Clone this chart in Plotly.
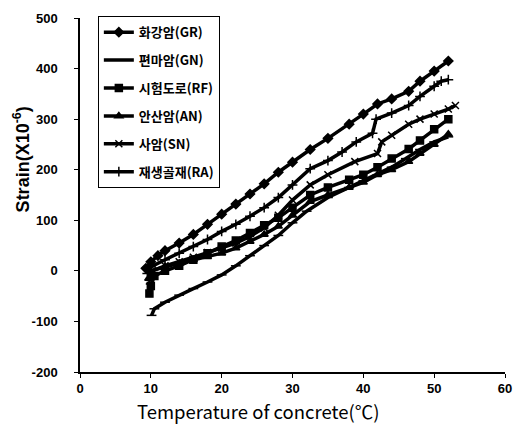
import plotly.graph_objects as go

# Series names (legend order)
names = ["화강암(GR)", "편마암(GN)", "시험도로(RF)", "안산암(AN)", "사암(SN)", "재생골재(RA)"]
symbols = ["diamond", "line-ew", "square", "triangle-up", "x-thin", "cross-thin"]

# Temperature of concrete (°C) and strain (x10^-6) per series
gr_t = [9.3, 10, 11, 12, 14, 16, 18, 20, 22, 24, 26, 28, 30, 32.5, 35, 38, 40, 42, 44, 46.4, 48, 50, 52]
gr_s = [5, 18, 30, 40, 55, 72, 92, 112, 132, 152, 172, 195, 215, 240, 262, 290, 310, 330, 340, 355, 375, 395, 415]

gn_t = [10.1, 10.5, 12, 14, 16, 18, 20, 22, 24, 26, 28, 30, 32, 35, 38, 40, 42, 44, 46, 48, 50, 52]
gn_s = [-88, -75, -62, -48, -35, -22, -8, 10, 30, 50, 70, 95, 118, 145, 165, 178, 190, 205, 222, 240, 255, 265]

rf_t = [9.8, 10, 10.5, 12, 14, 16, 18, 20, 22, 24, 26, 28, 30, 32.5, 35, 38, 40, 42, 44, 46.4, 48, 50, 52]
rf_s = [-45, -30, -10, 0, 10, 22, 35, 48, 60, 75, 90, 105, 125, 150, 165, 180, 190, 205, 222, 241, 258, 280, 300]

an_t = [9.7, 10, 12, 14, 16, 18, 20, 22, 24, 26, 28, 30, 32.5, 35, 38, 40, 42, 44, 46.4, 48, 50, 52]
an_s = [-15, 0, 8, 15, 22, 28, 35, 45, 58, 72, 88, 110, 137, 150, 165, 175, 190, 200, 216, 232, 250, 270]

sn_t = [9.8, 10.2, 12, 14, 16, 18, 20, 22, 24, 26, 28, 30, 32.5, 35, 38.8, 42, 42.6, 44, 46.4, 48, 50, 52, 53]
sn_s = [-20, 0, 10, 18, 27, 36, 45, 55, 68, 85, 110, 140, 170, 190, 216, 232, 255, 268, 290, 300, 310, 320, 327]

ra_t = [9.5, 10, 12, 14, 16, 18, 20, 22, 24, 26, 28, 30, 32.5, 35, 37, 39, 41.3, 41.8, 44, 46.4, 48, 50, 51, 52]
ra_s = [-5, 8, 22, 35, 48, 62, 78, 92, 108, 125, 145, 170, 202, 218, 235, 255, 272, 300, 312, 327, 345, 365, 375, 378]

temps = [gr_t, gn_t, rf_t, an_t, sn_t, ra_t]
strains = [gr_s, gn_s, rf_s, an_s, sn_s, ra_s]

x_ticks = [0, 10, 20, 30, 40, 50, 60]
y_ticks = [-200, -100, 0, 100, 200, 300, 400, 500]

x_title = "Temperature of concrete(℃)"
y_title = "Strain(X10<sup>-6</sup>)"

fig = go.Figure()
for i, (n, sym, t, s) in enumerate(zip(names, symbols, temps, strains)):
    fig.add_trace(go.Scatter(
        x=t, y=s, name=n, mode="lines+markers",
        legendgroup=str(i),
        line=dict(color="black", width=3.5),
        marker=dict(symbol=sym, size=7, color="black",
                    line=dict(color="black", width=1.5)),
    ))

font_family = "Liberation Sans, Arial, Noto Sans CJK KR, sans-serif"
cjk = "Noto Sans CJK KR, Liberation Sans"

fig.update_layout(
    width=523, height=434,
    margin=dict(l=80, r=11, t=15, b=62),
    plot_bgcolor="white", paper_bgcolor="white",
    font=dict(family=font_family, color="black"),
    showlegend=True,
    legend=dict(
        x=0.042, y=1.005, xanchor="left", yanchor="top",
        bgcolor="white", bordercolor="black", borderwidth=1,
        font=dict(size=13, family=cjk, color="black", weight="bold"),
        tracegroupgap=8, itemwidth=30,
    ),
    xaxis=dict(
        range=[0, 60], tickvals=x_ticks, ticktext=["<b>%d</b>" % v for v in x_ticks],
        showgrid=False, zeroline=False, showline=True, linecolor="black", linewidth=1.5,
        ticks="outside", ticklen=4, tickcolor="black",
        tickfont=dict(size=13),
    ),
    yaxis=dict(
        range=[-200, 500], tickvals=y_ticks, ticktext=["<b>%d</b>" % v for v in y_ticks],
        showgrid=False, zeroline=False, showline=True, linecolor="black", linewidth=1.5,
        ticks="outside", ticklen=4, tickcolor="black", ticklabelstandoff=14,
        tickfont=dict(size=13),
    ),
    annotations=[
        dict(text=x_title, xref="paper", yref="paper", x=0.419, y=-0.11,
             xanchor="center", yanchor="middle", showarrow=False,
             font=dict(size=18.5, family=cjk, color="black")),
        dict(text=y_title, xref="paper", yref="paper", x=-0.137, y=0.60,
             xanchor="center", yanchor="middle", showarrow=False, textangle=-90,
             font=dict(size=18, family=font_family, color="black", weight="bold")),
    ],
)

fig.write_html("out.html")
